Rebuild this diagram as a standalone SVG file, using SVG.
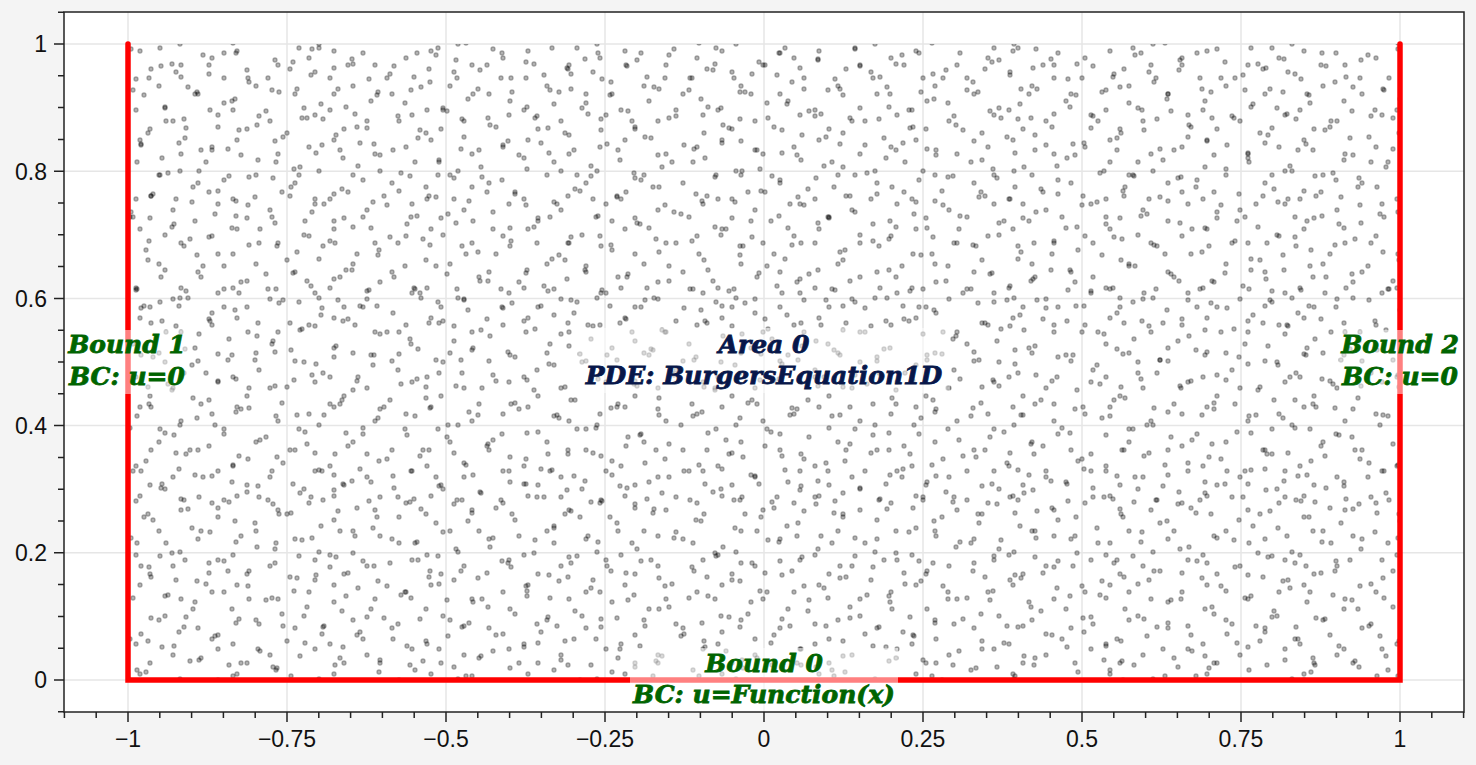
<svg xmlns="http://www.w3.org/2000/svg" width="1476" height="765" viewBox="0 0 1476 765">
<style>
.d{fill:#000;fill-opacity:.3;stroke:#000;stroke-opacity:.32;stroke-width:1.1}
.grid{stroke:#e6e6e6;stroke-width:1.5;fill:none}
.tick{stroke:#222;stroke-width:1.5;fill:none}
.tl{font-family:"Liberation Sans",Arial,sans-serif;font-size:23px;fill:#111}
.lab{font-family:"DejaVu Serif",serif;font-weight:bold;font-style:italic;font-size:25px;text-anchor:middle;stroke-width:.8}
.g{fill:#006400;stroke:#006400}
.n{fill:#07174a;stroke:#07174a}
.bb{fill:#fff;fill-opacity:.5}
</style>
<defs>
<pattern id="pA" patternUnits="userSpaceOnUse" x="128" y="44" width="97" height="89">
<circle class="d" cx="12" cy="7" r="2.1"/><circle class="d" cx="53" cy="21" r="2.1"/><circle class="d" cx="84" cy="14" r="2.1"/><circle class="d" cx="31" cy="42" r="2.1"/><circle class="d" cx="70" cy="50" r="2.1"/><circle class="d" cx="8" cy="66" r="2.1"/><circle class="d" cx="45" cy="77" r="2.1"/><circle class="d" cx="90" cy="71" r="2.1"/><circle class="d" cx="22" cy="85" r="2.1"/>
</pattern>
<pattern id="pB" patternUnits="userSpaceOnUse" x="171" y="61" width="139" height="127">
<circle class="d" cx="5" cy="11" r="2.1"/><circle class="d" cx="38" cy="4" r="2.1"/><circle class="d" cx="77" cy="17" r="2.1"/><circle class="d" cx="119" cy="8" r="2.1"/><circle class="d" cx="24" cy="33" r="2.1"/><circle class="d" cx="61" cy="40" r="2.1"/><circle class="d" cx="101" cy="29" r="2.1"/><circle class="d" cx="133" cy="47" r="2.1"/><circle class="d" cx="13" cy="58" r="2.1"/><circle class="d" cx="47" cy="66" r="2.1"/><circle class="d" cx="88" cy="55" r="2.1"/><circle class="d" cx="116" cy="72" r="2.1"/><circle class="d" cx="30" cy="89" r="2.1"/><circle class="d" cx="70" cy="94" r="2.1"/><circle class="d" cx="105" cy="101" r="2.1"/><circle class="d" cx="9" cy="110" r="2.1"/><circle class="d" cx="53" cy="119" r="2.1"/><circle class="d" cx="128" cy="114" r="2.1"/>
</pattern>
<pattern id="pC" patternUnits="userSpaceOnUse" x="203" y="19" width="181" height="163">
<circle class="d" cx="15" cy="9" r="2.1"/><circle class="d" cx="52" cy="15" r="2.1"/><circle class="d" cx="88" cy="5" r="2.1"/><circle class="d" cx="131" cy="12" r="2.1"/><circle class="d" cx="170" cy="20" r="2.1"/><circle class="d" cx="33" cy="34" r="2.1"/><circle class="d" cx="72" cy="41" r="2.1"/><circle class="d" cx="109" cy="30" r="2.1"/><circle class="d" cx="150" cy="45" r="2.1"/><circle class="d" cx="6" cy="55" r="2.1"/><circle class="d" cx="46" cy="63" r="2.1"/><circle class="d" cx="94" cy="70" r="2.1"/><circle class="d" cx="127" cy="59" r="2.1"/><circle class="d" cx="175" cy="73" r="2.1"/><circle class="d" cx="21" cy="84" r="2.1"/><circle class="d" cx="63" cy="92" r="2.1"/><circle class="d" cx="104" cy="99" r="2.1"/><circle class="d" cx="143" cy="88" r="2.1"/><circle class="d" cx="36" cy="111" r="2.1"/><circle class="d" cx="80" cy="118" r="2.1"/><circle class="d" cx="119" cy="126" r="2.1"/><circle class="d" cx="164" cy="109" r="2.1"/><circle class="d" cx="9" cy="131" r="2.1"/><circle class="d" cx="55" cy="141" r="2.1"/><circle class="d" cx="97" cy="148" r="2.1"/><circle class="d" cx="140" cy="139" r="2.1"/><circle class="d" cx="177" cy="152" r="2.1"/><circle class="d" cx="26" cy="157" r="2.1"/><circle class="d" cx="70" cy="159" r="2.1"/><circle class="d" cx="157" cy="124" r="2.1"/>
</pattern>
<pattern id="pD" patternUnits="userSpaceOnUse" x="97" y="83" width="233" height="211">
<circle class="d" cx="8" cy="6" r="2.1"/><circle class="d" cx="47" cy="12" r="2.1"/><circle class="d" cx="91" cy="4" r="2.1"/><circle class="d" cx="138" cy="16" r="2.1"/><circle class="d" cx="182" cy="9" r="2.1"/><circle class="d" cx="224" cy="21" r="2.1"/><circle class="d" cx="25" cy="31" r="2.1"/><circle class="d" cx="69" cy="38" r="2.1"/><circle class="d" cx="113" cy="27" r="2.1"/><circle class="d" cx="160" cy="42" r="2.1"/><circle class="d" cx="205" cy="35" r="2.1"/><circle class="d" cx="6" cy="52" r="2.1"/><circle class="d" cx="44" cy="61" r="2.1"/><circle class="d" cx="88" cy="55" r="2.1"/><circle class="d" cx="131" cy="66" r="2.1"/><circle class="d" cx="178" cy="58" r="2.1"/><circle class="d" cx="219" cy="70" r="2.1"/><circle class="d" cx="28" cy="83" r="2.1"/><circle class="d" cx="71" cy="90" r="2.1"/><circle class="d" cx="109" cy="79" r="2.1"/><circle class="d" cx="152" cy="94" r="2.1"/><circle class="d" cx="197" cy="86" r="2.1"/><circle class="d" cx="12" cy="106" r="2.1"/><circle class="d" cx="54" cy="113" r="2.1"/><circle class="d" cx="96" cy="104" r="2.1"/><circle class="d" cx="139" cy="118" r="2.1"/><circle class="d" cx="185" cy="109" r="2.1"/><circle class="d" cx="227" cy="121" r="2.1"/><circle class="d" cx="33" cy="134" r="2.1"/><circle class="d" cx="77" cy="141" r="2.1"/><circle class="d" cx="118" cy="131" r="2.1"/><circle class="d" cx="163" cy="146" r="2.1"/><circle class="d" cx="208" cy="138" r="2.1"/><circle class="d" cx="5" cy="160" r="2.1"/><circle class="d" cx="49" cy="167" r="2.1"/><circle class="d" cx="93" cy="156" r="2.1"/><circle class="d" cx="136" cy="171" r="2.1"/><circle class="d" cx="180" cy="163" r="2.1"/><circle class="d" cx="222" cy="176" r="2.1"/><circle class="d" cx="22" cy="187" r="2.1"/><circle class="d" cx="64" cy="194" r="2.1"/><circle class="d" cx="106" cy="183" r="2.1"/><circle class="d" cx="150" cy="198" r="2.1"/><circle class="d" cx="196" cy="190" r="2.1"/><circle class="d" cx="39" cy="207" r="2.1"/><circle class="d" cx="84" cy="205" r="2.1"/><circle class="d" cx="127" cy="206" r="2.1"/><circle class="d" cx="171" cy="206" r="2.1"/><circle class="d" cx="214" cy="203" r="2.1"/><circle class="d" cx="4" cy="196" r="2.1"/>
</pattern>
</defs>
<rect x="0" y="0" width="1476" height="765" fill="#f4f4f4"/>
<rect x="64" y="12" width="1400" height="700" fill="#fff"/>
<g id="grid">
<path class="grid" d="M128 12V712M287 12V712M446 12V712M605 12V712M764 12V712M923 12V712M1082 12V712M1241 12V712M1400 12V712M64 680H1464M64 552.8H1464M64 425.6H1464M64 298.4H1464M64 171.2H1464M64 44H1464"/>
</g>
<g id="points">
<rect x="128" y="44" width="1272" height="636" fill="url(#pA)"/>
<rect x="128" y="44" width="1272" height="636" fill="url(#pB)"/>
<rect x="128" y="44" width="1272" height="636" fill="url(#pC)"/>
<rect x="128" y="44" width="1272" height="636" fill="url(#pD)"/>
</g>
<g id="boundaries">
<path d="M128 44V680H1400V44" fill="none" stroke="#f00" stroke-width="5.5" stroke-linecap="round"/>
</g>
<g id="area0">
<rect class="bb" x="578" y="328" width="372" height="65"/>
<text class="lab n" x="764" y="353">Area 0</text>
<text class="lab n" x="764" y="384">PDE: BurgersEquation1D</text>
</g>
<g id="bound0">
<rect class="bb" x="630" y="648" width="268" height="63"/>
<text class="lab g" x="764" y="672">Bound 0</text>
<text class="lab g" x="764" y="703">BC: u=Function(x)</text>
</g>
<g id="bound1">
<rect class="bb" x="66" y="330" width="122" height="64"/>
<text class="lab g" x="127" y="353">Bound 1</text>
<text class="lab g" x="127" y="385">BC: u=0</text>
</g>
<g id="bound2">
<rect class="bb" x="1339" y="330" width="122" height="64"/>
<text class="lab g" x="1400" y="353">Bound 2</text>
<text class="lab g" x="1400" y="385">BC: u=0</text>
</g>
<g id="axes">
<rect x="64" y="12" width="1400" height="700" fill="none" stroke="#222" stroke-width="1.5"/>
<path class="tick" d="M64.4 712v6M96.2 712v6M159.8 712v6M191.6 712v6M223.4 712v6M255.2 712v6M318.8 712v6M350.6 712v6M382.4 712v6M414.2 712v6M477.8 712v6M509.6 712v6M541.4 712v6M573.2 712v6M636.8 712v6M668.6 712v6M700.4 712v6M732.2 712v6M795.8 712v6M827.6 712v6M859.4 712v6M891.2 712v6M954.8 712v6M986.6 712v6M1018.4 712v6M1050.2 712v6M1113.8 712v6M1145.6 712v6M1177.4 712v6M1209.2 712v6M1272.8 712v6M1304.6 712v6M1336.4 712v6M1368.2 712v6M1431.8 712v6M1463.6 712v6"/>
<path class="tick" d="M128 712v10M287 712v10M446 712v10M605 712v10M764 712v10M923 712v10M1082 712v10M1241 712v10M1400 712v10"/>
<path class="tick" d="M64 711.8h-6M64 648.2h-6M64 616.4h-6M64 584.6h-6M64 521h-6M64 489.2h-6M64 457.4h-6M64 393.8h-6M64 362h-6M64 330.2h-6M64 266.6h-6M64 234.8h-6M64 203h-6M64 139.4h-6M64 107.6h-6M64 75.8h-6M64 12.2h-6"/>
<path class="tick" d="M64 680h-10M64 552.8h-10M64 425.6h-10M64 298.4h-10M64 171.2h-10M64 44h-10"/>
<g class="tl" text-anchor="middle">
<text x="128" y="747">−1</text><text x="287" y="747">−0.75</text><text x="446" y="747">−0.5</text><text x="605" y="747">−0.25</text><text x="764" y="747">0</text><text x="923" y="747">0.25</text><text x="1082" y="747">0.5</text><text x="1241" y="747">0.75</text><text x="1400" y="747">1</text>
</g>
<g class="tl" text-anchor="end">
<text x="47" y="688.3">0</text><text x="47" y="561.1">0.2</text><text x="47" y="433.9">0.4</text><text x="47" y="306.7">0.6</text><text x="47" y="179.5">0.8</text><text x="47" y="52.3">1</text>
</g>
</g>
</svg>
